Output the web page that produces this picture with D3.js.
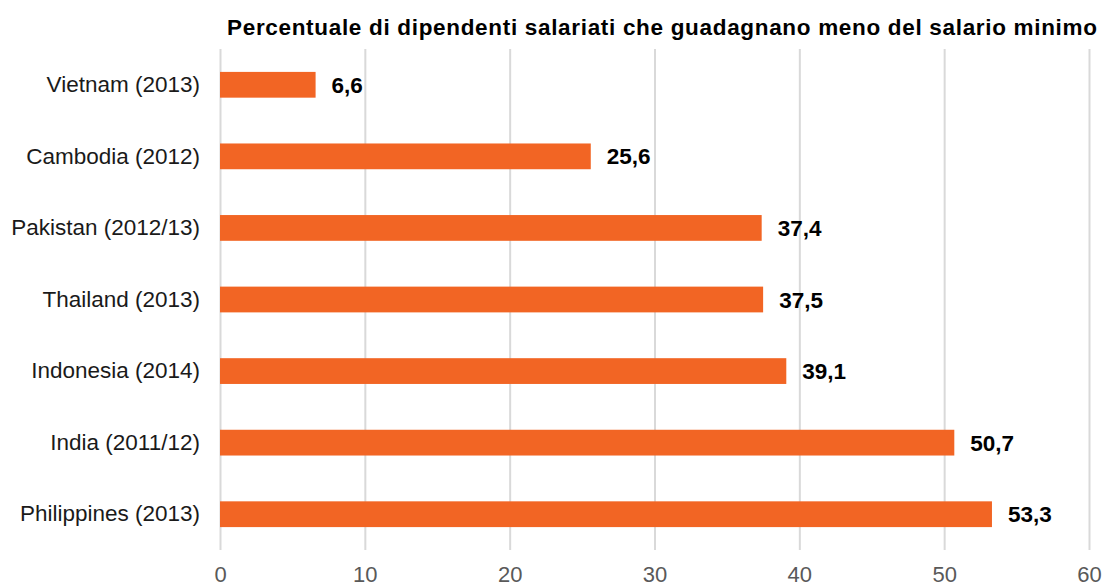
<!DOCTYPE html>
<html>
<head>
<meta charset="utf-8">
<script src="https://cdn.jsdelivr.net/npm/d3@7"></script>
<style>
  body { margin: 0; background: #fff; }
  text { font-family: "Liberation Sans", Arial, sans-serif; }
</style>
</head>
<body>
<svg id="drawing_region"></svg>
<script>
const countries = ['Vietnam (2013)', 'Cambodia (2012)', 'Pakistan (2012/13)', 'Thailand (2013)',
                   'Indonesia (2014)', 'India (2011/12)', 'Philippines (2013)'];
const shares = [6.6, 25.6, 37.4, 37.5, 39.1, 50.7, 53.3];
const xTicks = [0, 10, 20, 30, 40, 50, 60];
const title = 'Percentuale di dipendenti salariati che guadagnano meno del salario minimo';

const width = 1104, height = 588;
const margin = { top: 49, right: 15, bottom: 38, left: 220 };

const data = countries.map((c, i) => ({ country: c, value: shares[i] }));

const svg = d3.select('#drawing_region')
    .attr('width', width)
    .attr('height', height);

const xscale = d3.scaleLinear()
    .domain([0, 60])
    .range([margin.left, width - margin.right]);

const yscale = d3.scaleBand()
    .domain(countries)
    .range([margin.top, height - margin.bottom])
    .paddingInner(0.64)
    .paddingOuter(0.32);

// vertical gridlines + tick labels
const xaxis = d3.axisBottom(xscale)
    .tickValues(xTicks)
    .tickFormat(d3.format('d'))
    .tickSizeInner(-(height - margin.bottom - margin.top))
    .tickSizeOuter(0)
    .tickPadding(16);

const xg = svg.append('g')
    .attr('transform', `translate(0, ${height - margin.bottom})`)
    .call(xaxis);
xg.select('.domain').remove();
xg.selectAll('line').attr('stroke', '#d9d9d9').attr('stroke-width', 2);
xg.selectAll('text')
    .attr('fill', '#595959')
    .style('font-size', '22px')
    .style('font-family', '"Liberation Sans", Arial, sans-serif');

const yaxis = d3.axisLeft(yscale)
    .tickSize(0)
    .tickPadding(20);

const yg = svg.append('g')
    .attr('transform', `translate(${margin.left}, 0)`)
    .call(yaxis);
yg.select('.domain').remove();
yg.selectAll('text')
    .attr('fill', '#1a1a1a')
    .style('font-size', '22.5px')
    .style('font-family', '"Liberation Sans", Arial, sans-serif');

// bars
svg.append('g').selectAll('rect')
    .data(data)
    .join('rect')
    .attr('x', xscale(0))
    .attr('y', d => yscale(d.country))
    .attr('width', d => xscale(d.value) - xscale(0))
    .attr('height', yscale.bandwidth())
    .attr('fill', '#f26524');

// value labels
svg.append('g').selectAll('text')
    .data(data)
    .join('text')
    .attr('x', d => xscale(d.value) + 16)
    .attr('y', d => yscale(d.country) + yscale.bandwidth() / 2)
    .attr('dy', '0.36em')
    .style('font-size', '22.5px')
    .style('font-weight', 'bold')
    .attr('fill', '#000')
    .text(d => d.value.toFixed(1).replace('.', ','));

// title
svg.append('text')
    .attr('x', 227)
    .attr('y', 35)
    .attr('textLength', 870)
    .attr('lengthAdjust', 'spacing')
    .style('font-size', '22.5px')
    .style('font-weight', 'bold')
    .attr('fill', '#000')
    .text(title);
</script>
</body>
</html>
